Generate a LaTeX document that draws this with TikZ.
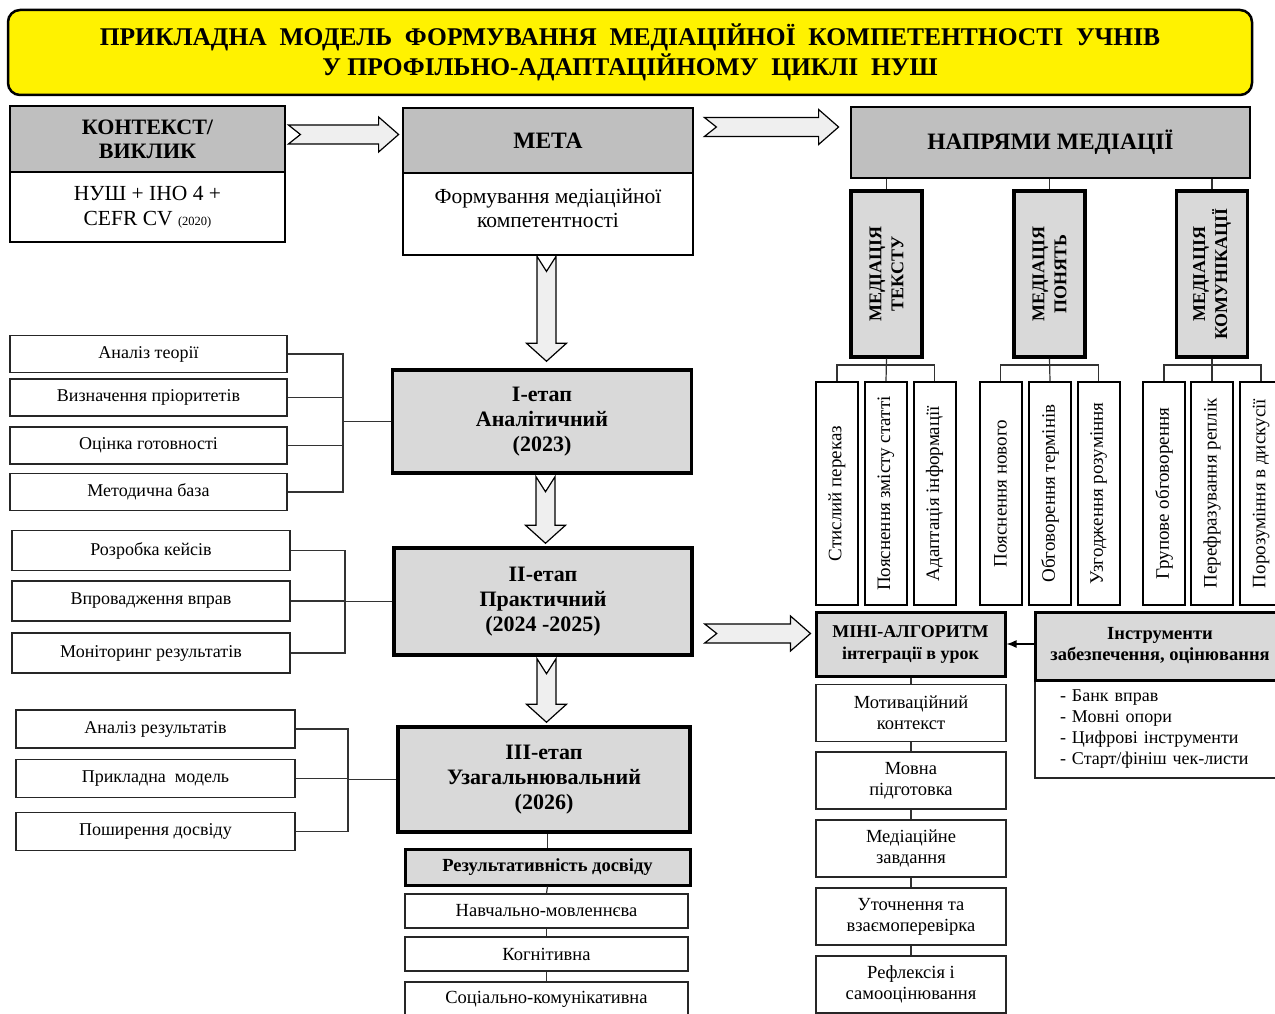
\documentclass[tikz,border=0pt]{standalone}
\usepackage{fontspec}
\setmainfont{Liberation Serif}
\usetikzlibrary{calc,arrows.meta}

\definecolor{hdrgray}{HTML}{BFBFBF}
\definecolor{boxgray}{HTML}{D9D9D9}
\definecolor{arrgray}{HTML}{EFEFEF}

\begin{document}
\begin{tikzpicture}
[x=1pt, y=-1pt,
title/.style={rectangle, draw, fill=yellow, rounded corners=12pt, line width=2.5pt, align=center, inner sep=0pt, font=\fontsize{25.5}{30}\selectfont\bfseries},
hdr/.style={rectangle, draw, fill=hdrgray, line width=2.8pt, align=center, inner sep=0pt, font=\fontsize{23.5}{25}\selectfont\bfseries},
body/.style={rectangle, draw, fill=white, line width=2.8pt, align=center, inner sep=0pt, font=\fontsize{21.5}{24.5}\selectfont},
stage/.style={rectangle, draw, fill=boxgray, line width=3.5pt, align=center, inner sep=0pt, font=\fontsize{22}{25}\selectfont\bfseries},
item/.style={rectangle, draw=black!85, line width=1.4pt, align=center, inner sep=0pt, font=\fontsize{18}{21}\selectfont},
stepbox/.style={rectangle, draw=black!85, line width=1.4pt, align=center, inner sep=0pt, minimum width=190pt, minimum height=57pt, font=\fontsize{18.5}{21}\selectfont},
medbox/.style={rectangle, draw, fill=boxgray, line width=3.2pt, align=center, inner sep=0pt, rotate=90, minimum width=166pt, minimum height=71pt, font=\fontsize{18}{22}\selectfont\bfseries},
subbox/.style={rectangle, draw, line width=2pt, inner sep=0pt, rotate=90, minimum width=223pt, minimum height=42pt, font=\fontsize{19}{20}\selectfont},
link/.style={draw=black!80, line width=1.2pt},
hblock/.style={draw, fill=arrgray, line width=1.2pt,
  to path={let \p1=(\tikztostart), \p2=(\tikztotarget) in
  (\x1,\y1+9.5pt) -- (\x2-20pt,\y1+9.5pt) -- (\x2-20pt,\y1+17.5pt) -- (\x2,\y1) -- (\x2-20pt,\y1-17.5pt)
  -- (\x2-20pt,\y1-9.5pt) -- (\x1,\y1-9.5pt) -- (\x1+12pt,\y1) -- cycle}},
vblock/.style={draw, fill=arrgray, line width=1.2pt,
  to path={let \p1=(\tikztostart), \p2=(\tikztotarget) in
  (\x1-9.5pt,\y1) -- (\x1,\y1-15pt) -- (\x1+9.5pt,\y1) -- (\x1+9.5pt,\y2+18pt) -- (\x1+20pt,\y2+18pt)
  -- (\x1,\y2) -- (\x1-20pt,\y2+18pt) -- (\x1-9.5pt,\y2+18pt) -- cycle}}]

\useasboundingbox (0,0) rectangle (1275,1014);

% title
\node[title, minimum width=1244pt, minimum height=85pt] (title) at (630,52.5)
  {ПРИКЛАДНА~ МОДЕЛЬ~ ФОРМУВАННЯ~ МЕДІАЦІЙНОЇ~ КОМПЕТЕНТНОСТІ~ УЧНІВ\\У ПРОФІЛЬНО-АДАПТАЦІЙНОМУ~ ЦИКЛІ~ НУШ};

% context and goal
\node[body, minimum width=275pt, minimum height=70pt] (ctxb) at (147.5,207) {НУШ + ІНО 4 +\\CEFR CV {\fontsize{12.5}{14}\selectfont(2020)}};
\node[hdr, minimum width=275pt, minimum height=66pt, font=\fontsize{22}{24}\selectfont\bfseries] (ctxh) at (147.5,139) {КОНТЕКСТ/\\ВИКЛИК};
\node[body, minimum width=290pt, minimum height=82pt] (metab) at (548,214) {Формування медіаційної\\компетентності\\[-13pt]};
\node[hdr, minimum width=290pt, minimum height=65pt] (metah) at (548,140.5) {МЕТА};
\node[hdr, minimum width=399pt, minimum height=71pt] (napr) at (1050.5,142.5) {НАПРЯМИ МЕДІАЦІЇ};

\draw[hblock] ([xshift=2pt,yshift=4.5pt]ctxh.east) to ([xshift=-3pt]metah.west);
\draw[hblock] ([xshift=10pt,yshift=13.5pt]metah.east) to ([xshift=-11pt]napr.west);

% directions of mediation
\node[medbox] (med1) at (886.5,274) {МЕДІАЦІЯ\\ТЕКСТУ};
\node[medbox] (med2) at (1049.5,274) {МЕДІАЦІЯ\\ПОНЯТЬ};
\node[medbox] (med3) at (1212,274) {МЕДІАЦІЯ\\КОМУНІКАЦІЇ};

\draw[link] (napr.south -| med1.east) -- (med1.east);
\draw[link] (napr.south -| med2.east) -- (med2.east);
\draw[link] (napr.south -| med3.east) -- (med3.east);

\node[subbox] (s11) at (837,493.5) {Стислий переказ};
\node[subbox] (s12) at (886,493.5) {Пояснення змісту статті};
\node[subbox] (s13) at (934.5,493.5) {Адаптація інформації};

\node[subbox] (s21) at (1000.5,493.5) {Пояснення нового};
\node[subbox] (s22) at (1050,493.5) {Обговорення термінів};
\node[subbox] (s23) at (1098.5,493.5) {Узгодження розуміння};

\node[subbox] (s31) at (1164,493.5) {Групове обговорення};
\node[subbox] (s32) at (1212,493.5) {Перефразування реплік};
\node[subbox] (s33) at (1261,493.5) {Порозуміння в дискусії};

\draw[link] (med1.west) -- (s12.east);
\draw[link] (s11.east) -- ++(0,-16) -| (s13.east);
\draw[link] (med2.west) -- (s22.east);
\draw[link] (s21.east) -- ++(0,-16) -| (s23.east);
\draw[link] (med3.west) -- (s32.east);
\draw[link] (s31.east) -- ++(0,-16) -| (s33.east);

% stage I
\node[stage, minimum width=299pt, minimum height=103pt] (st1) at (542,421.5) {I-етап\\Аналітичний\\(2023)};
\node[item, minimum width=277pt, minimum height=37pt] (a1) at (148.5,354) {Аналіз теорії};
\node[item, minimum width=277pt, minimum height=37pt] (a2) at (148.5,397.5) {Визначення пріоритетів};
\node[item, minimum width=277pt, minimum height=37pt] (a3) at (148.5,445.5) {Оцінка готовності};
\node[item, minimum width=277pt, minimum height=37pt] (a4) at (148.5,492) {Методична база};
\coordinate (bar1) at (343,421.5);
\draw[link] (a1.east) -| (bar1) |- (a4.east);
\draw[link] (a2.east) -- (a2.east -| bar1);
\draw[link] (a3.east) -- (a3.east -| bar1);
\draw[link] (st1.west) -- (bar1);

% stage II
\node[stage, minimum width=298pt, minimum height=107pt] (st2) at (543,601.5) {II-етап\\Практичний\\(2024 -2025)};
\node[item, minimum width=278pt, minimum height=40pt] (b1) at (151,550.5) {Розробка кейсів};
\node[item, minimum width=278pt, minimum height=40pt] (b2) at (151,601) {Впровадження вправ};
\node[item, minimum width=278pt, minimum height=40pt] (b3) at (151,653) {Моніторинг результатів};
\coordinate (bar2) at (345,601.5);
\draw[link] (b1.east) -| (bar2) |- (b3.east);
\draw[link] (b2.east) -- (b2.east -| bar2);
\draw[link] (st2.west) -- (bar2);

% stage III
\node[stage, minimum width=292pt, minimum height=105pt] (st3) at (544,779.5) {III-етап\\Узагальнювальний\\(2026)};
\node[item, minimum width=279pt, minimum height=38pt] (c1) at (155.5,729) {Аналіз результатів};
\node[item, minimum width=279pt, minimum height=38pt] (c2) at (155.5,778.5) {Прикладна~ модель};
\node[item, minimum width=279pt, minimum height=38pt] (c3) at (155.5,831.5) {Поширення досвіду};
\coordinate (bar3) at (348,779.5);
\draw[link] (c1.east) -| (bar3) |- (c3.east);
\draw[link] (c2.east) -- (c2.east -| bar3);
\draw[link] (st3.west) -- (bar3);

\draw[vblock] ([xshift=-1.5pt]metab.south) to ([yshift=7pt]st1.north);
\draw[vblock] ([xshift=3.5pt,yshift=-2pt]st1.south) to ([yshift=3pt]st2.north);
\draw[vblock] ([xshift=3.5pt,yshift=-2pt]st2.south) to ([yshift=3pt]st3.north);

% results
\node[stage, line width=3pt, minimum width=285pt, minimum height=36pt, font=\fontsize{18.5}{21}\selectfont\bfseries] (res) at (547.5,867) {Результативність досвіду};
\node[item, minimum width=283pt, minimum height=34pt, font=\fontsize{18.5}{21}\selectfont] (r1) at (546.5,911) {Навчально-мовленнєва};
\node[item, minimum width=283pt, minimum height=34pt, font=\fontsize{18.5}{21}\selectfont] (r2) at (546.5,954) {Когнітивна};
\node[item, minimum width=283pt, minimum height=34pt, font=\fontsize{18.5}{21}\selectfont] (r3) at (546.5,999) {Соціально-комунікативна};
\draw[link] (res.north |- st3.south) -- (res.north);
\draw[link] (res.south) -- (r1.north);
\draw[link] (r1.south) -- (r2.north);
\draw[link] (r2.south) -- (r3.north);

% mini-algorithm
\node[stage, line width=3pt, minimum width=189pt, minimum height=64pt, font=\fontsize{18}{22}\selectfont\bfseries] (mini) at (910.5,644) {МІНІ-АЛГОРИТМ\\інтеграції в урок};
\draw[hblock] ([xshift=11pt,yshift=-32pt]st2.east) to ([xshift=-4pt]mini.west);

\node[stepbox] (m1) at (911,713) {Мотиваційний\\контекст};
\node[stepbox] (m2) at (911,780.5) {Мовна\\підготовка};
\node[stepbox] (m3) at (911,848.5) {Медіаційне\\завдання};
\node[stepbox] (m4) at (911,916.5) {Уточнення та\\взаємоперевірка};
\node[stepbox] (m5) at (911,984.5) {Рефлексія і\\самооцінювання};
\draw[link] (mini.south -| m1.north) -- (m1.north);
\draw[link] (m1.south) -- (m2.north);
\draw[link] (m2.south) -- (m3.north);
\draw[link] (m3.south) -- (m4.north);
\draw[link] (m4.south) -- (m5.north);

% tools
\node[item, align=left, text width=200pt, minimum width=250pt, minimum height=98pt, font=\fontsize{18}{20.7}\selectfont] (instrb) at (1160,729)
  {- Банк вправ\\- Мовні опори\\- Цифрові інструменти\\- Старт/фініш чек-листи};
\node[stage, line width=3pt, minimum width=250pt, minimum height=68pt, font=\fontsize{18.5}{21}\selectfont\bfseries] (instrh) at (1160,646) {Інструменти\\забезпечення, оцінювання};
\draw[draw=black, line width=1.4pt, -{Latex[length=10pt,width=8pt]}] (instrh.west |- mini.east) -- (mini.east);

\end{tikzpicture}
\end{document}
